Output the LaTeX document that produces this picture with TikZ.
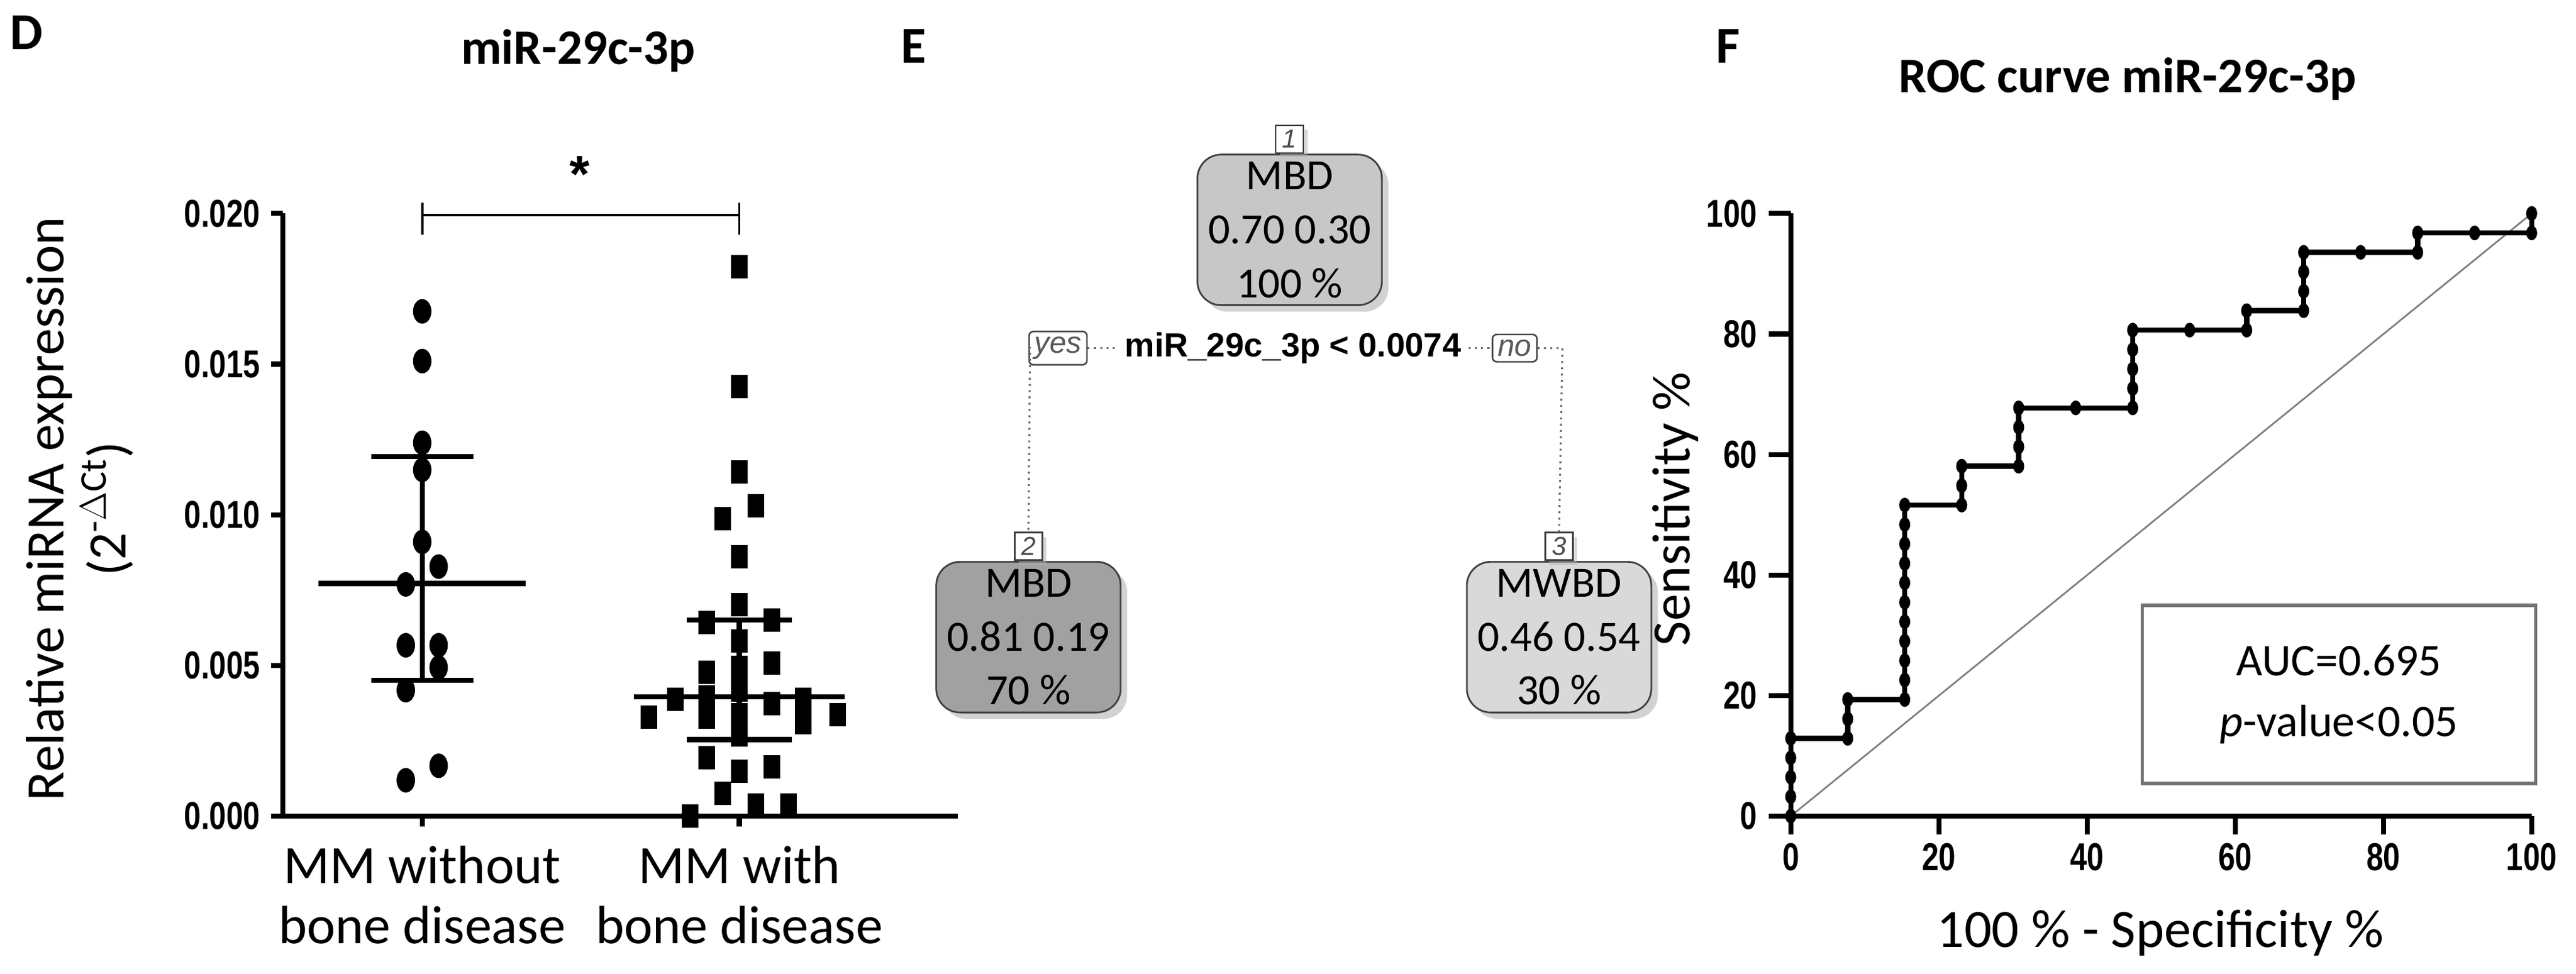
\documentclass[tikz,border=0pt]{standalone}
\usepackage{fontspec}
\setmainfont{Carlito}
\newfontfamily\narrowf{Liberation Sans}[FakeStretch=0.78]
\newfontfamily\arialf{Liberation Sans}
\usetikzlibrary{shadows}
\begin{document}
\begin{tikzpicture}[x=0.02672cm,y=-0.02672cm,
  axis/.style={line width=2.3pt},
  tick/.style={font=\narrowf\bfseries\fontsize{18}{20}\selectfont},
  lab/.style={font=\fontsize{25}{28}\selectfont},
  ttl/.style={font=\bfseries\fontsize{23}{26}\selectfont},
  panel/.style={font=\bfseries\fontsize{24}{26}\selectfont},
  tnode/.style={draw=black!75,line width=0.8pt,rounded corners=11pt,minimum width=3.0cm,minimum height=2.45cm,align=center,font=\fontsize{20}{25}\selectfont,drop shadow={shadow xshift=3pt,shadow yshift=-3pt,fill=black!35}},
  tnum/.style={draw=black!75,fill=white,line width=0.7pt,inner sep=1.5pt,minimum width=0.45cm,minimum height=0.45cm,font=\arialf\itshape\fontsize{12}{13}\selectfont,text=black!70,drop shadow={shadow xshift=2pt,shadow yshift=-2pt,fill=black!30}},
  tlab/.style={draw=black!75,fill=white,line width=0.7pt,rounded corners=2pt,inner sep=2.5pt,font=\arialf\itshape\fontsize{14}{15}\selectfont,text=black!65},
  split/.style={dotted,line width=0.9pt,black!60},
  dot/.style={fill=black}]
\useasboundingbox (0,0) rectangle (1568,593);
% ===================== Panel D =====================
\node[panel] (pD) at (16,20) {D};
\node[ttl] (tD) at (352,31) {miR-29c-3p};
\node[lab,rotate=90] (ylD) at (30,310) {Relative miRNA expression};
\node[lab,rotate=90] (ylD2) at (65,310) {(2\textsuperscript{-$\Delta$Ct})};
\begin{scope}[shift={(172,497)},y=0.4903cm]
  \draw[axis] (0,0) -- (0,20);
  \draw[axis] (-2,0) -- (411,0);
  \foreach \v/\t in {0/0.000,5/0.005,10/0.010,15/0.015,20/0.020}{
    \draw[axis] (-7,\v) -- (0,\v);
    \node[tick,anchor=east] (yt\v) at (-9,\v) {\t};}
  \draw[axis] (85,0) -- (85,-0.35);
  \draw[axis] (278,0) -- (278,-0.35);
  % significance bar
  \draw[line width=1pt] (85,19.95) -- (278,19.95);
  \draw[line width=1pt] (85,19.3) -- (85,20.35);
  \draw[line width=1pt] (278,19.3) -- (278,20.35);
  \node[font=\arialf\bfseries\fontsize{24}{24}\selectfont] (star) at (181,21.3) {*};
  % group 1 circles
  \foreach \dx/\v in {0/16.75,0/15.1,0/12.39,0/11.49,0/9.1,10/8.28,-10/7.69,-10/5.67,10/5.67,10/4.93,-10/4.18,10/1.67,-10/1.19}
    \fill (85+\dx,\v) ellipse [x radius=0.15cm,y radius=0.2cm];
  \draw[axis] (85,11.94) -- (85,4.5);
  \draw[axis] (22,7.72) -- (148,7.72);
  \draw[axis] (54,11.94) -- (116,11.94);
  \draw[axis] (54,4.5) -- (116,4.5);
  % group 2 squares
  \foreach \dx/\v in {0/18.24,0/14.25,0/11.42,10/10.3,-10/9.88,0/8.61,0/7.01,-20/6.42,20/6.5,0/5.82,20/5.07,-20/4.78,0/4.93,-39/3.88,39/3.88,-20/3.95,0/4.18,20/3.73,-55/3.28,60/3.36,-20/3.28,0/3.36,39/3.1,0/2.69,-20/1.94,0/1.49,20/1.64,-10/0.75,10/0.37,30/0.37,-30/0.0}
    \fill (278+\dx,\v) ++(-0.135cm,-0.19cm) rectangle ++(0.27cm,0.38cm);
  \draw[axis] (278,6.5) -- (278,2.54);
  \draw[axis] (214,3.96) -- (342,3.96);
  \draw[axis] (246,6.5) -- (310,6.5);
  \draw[axis] (246,2.54) -- (310,2.54);
\end{scope}
\node[lab,align=center] (gx1) at (257,545) {MM without\\bone disease};
\node[lab,align=center] (gx2) at (450,545) {MM with\\bone disease};
% ===================== Panel E =====================
\node[panel] (pE) at (556,28) {E};
\node[tnode,fill=black!22] (n1) at (785,140) {MBD\\0.70 0.30\\100 \%};
\node[tnode,fill=black!37] (n2) at (626,388) {MBD\\0.81 0.19\\70 \%};
\node[tnode,fill=black!15] (n3) at (949,388) {MWBD\\0.46 0.54\\30 \%};
\node[tnum,anchor=south] (k1) at (n1.north) {1};
\node[tnum,anchor=south] (k2) at (n2.north) {2};
\node[tnum,anchor=south] (k3) at (n3.north) {3};
\node[font=\arialf\bfseries\fontsize{15.5}{17}\selectfont] (cond) at (787,212) {miR\_29c\_3p < 0.0074};
\node[tlab] (yes) at (644,212) {yes};
\node[tlab] (no) at (922,212) {no};
\coordinate (cl) at (627,212);
\coordinate (cr) at (951,212);
\draw[split] (yes) -- (cond);
\draw[split] (cond) -- (no);
\draw[split] (yes.west) -- (cl) -- (k2.north);
\draw[split] (no.east) -- (cr) -- (k3.north);
% ===================== Panel F =====================
\node[panel] (pF) at (1052,28) {F};
\node[ttl] (tF) at (1295,48) {ROC curve miR-29c-3p};
\node[lab,rotate=90] (ylF) at (1020,310) {Sensitivity \%};
\node[lab] (xlF) at (1315,568) {100 \% - Specificity \%};
\begin{scope}[shift={(1090,497)},x=0.1205cm,y=0.09806cm]
  \draw[gray,line width=0.8pt] (0,0) -- (100,100);
  \draw[axis] (0,-1) -- (0,100);
  \draw[axis] (-1,0) -- (100,0);
  \foreach \v in {0,20,40,60,80,100}{
    \draw[axis] (-3,\v) -- (0,\v);
    \node[tick,anchor=east] (fy\v) at (-3.5,\v) {\v};
    \draw[axis] (\v,0) -- (\v,-3);
    \node[tick,anchor=north] (fx\v) at (\v,-3.2) {\v};}
  \node[draw=black!55,line width=1.5pt,minimum width=6.4cm,minimum height=2.9cm,align=center,font=\fontsize{21}{28}\selectfont] (auc) at (74,20.2) {AUC=0.695\\\textit{p}-value<0.05};
  \begin{scope}[x=0.9269cm,y=0.3163cm]
    \draw[line width=2.4pt,line join=round] (0,0) -- (0,4) -- (1,4) -- (1,6) -- (2,6) -- (2,16) -- (3,16) -- (3,18) -- (4,18) -- (4,21) -- (6,21) -- (6,25) -- (8,25) -- (8,26) -- (9,26) -- (9,29) -- (11,29) -- (11,30) -- (13,30) -- (13,31);
    \foreach \i/\j in {0/0,0/1,0/2,0/3,0/4,1/4,1/5,1/6,2/6,2/7,2/8,2/9,2/10,2/11,2/12,2/13,2/14,2/15,2/16,3/16,3/17,3/18,4/18,4/19,4/20,4/21,5/21,6/21,6/22,6/23,6/24,6/25,7/25,8/25,8/26,9/26,9/27,9/28,9/29,10/29,11/29,11/30,12/30,13/30,13/31}
      \fill (\i,\j) ellipse [x radius=0.09cm,y radius=0.12cm];
  \end{scope}
\end{scope}
\end{tikzpicture}
\end{document}
